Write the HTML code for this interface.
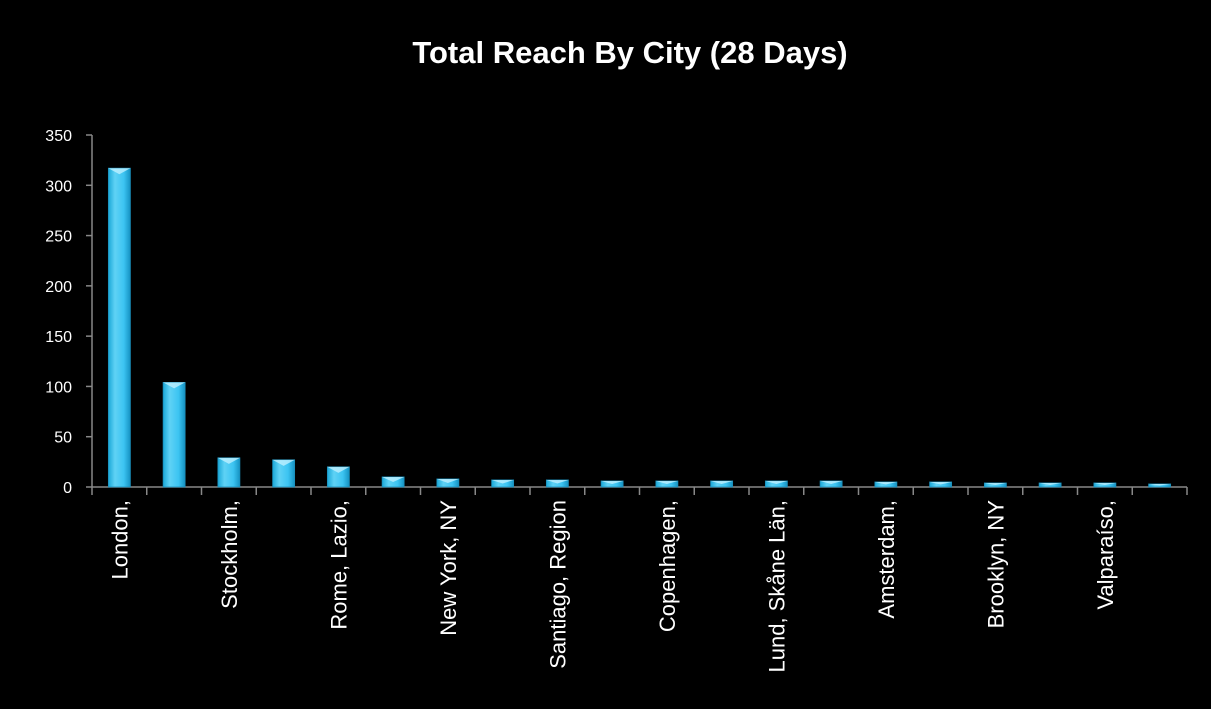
<!DOCTYPE html>
<html><head><meta charset="utf-8"><style>
html,body{margin:0;padding:0;background:#000;}
svg{display:block;font-family:"Liberation Sans",sans-serif;}
</style></head><body>
<svg id="chart" width="1211" height="709" viewBox="0 0 1211 709">
<defs>
<linearGradient id="bg" x1="0" y1="0" x2="1" y2="0">
<stop offset="0" stop-color="#1aa8d8"/><stop offset="0.3" stop-color="#5fd2f5"/><stop offset="0.7" stop-color="#3cc4f2"/><stop offset="1" stop-color="#1592c2"/>
</linearGradient>
<linearGradient id="bv" x1="0" y1="0" x2="0" y2="1">
<stop offset="0" stop-color="#ffffff" stop-opacity="0.25"/><stop offset="1" stop-color="#00a0e0" stop-opacity="0.25"/>
</linearGradient>
</defs>
<rect x="0" y="0" width="1211" height="709" fill="#000"/>
<text x="630" y="63" text-anchor="middle" fill="#fff" font-size="31" font-weight="bold">Total Reach By City (28 Days)</text>
<g id="plot"></g>
</svg>
<script>
const categories = ["London,","Birmingham,","Stockholm,","Gothenburg,","Rome, Lazio,","Milan,","New York, NY","Paris,","Santiago, Region","Madrid,","Copenhagen,","Oslo,","Lund, Skåne Län,","Malmö,","Amsterdam,","Berlin,","Brooklyn, NY","Dublin,","Valparaíso,","Barcelona,"];
const values = [317,104,29,27,20,10,8,7,7,6,6,6,6,6,5,5,4,4,4,3];
const yTicks = [0,50,100,150,200,250,300,350];
const NS="http://www.w3.org/2000/svg";
const g=document.getElementById('plot');
const X0=92,X1=1187,Y0=487,YT=135,YMAX=350;
const n=categories.length, cw=(X1-X0)/n;
function y(v){return Y0-(v/YMAX)*(Y0-YT);}
function x(i){return X0+cw*(i+0.5);}
function mk(t,a){const e=document.createElementNS(NS,t);for(const k in a)e.setAttribute(k,a[k]);g.appendChild(e);return e;}
let e;
e=mk('line',{x1:X0,y1:YT,x2:X0,y2:Y0,stroke:'#888','stroke-width':1.5});


e=mk('line',{x1:X0,y1:Y0,x2:X1,y2:Y0,stroke:'#888','stroke-width':1.5});


yTicks.forEach(t=>{
 e=mk('line',{x1:X0-6,y1:y(t),x2:X0,y2:y(t),stroke:'#888','stroke-width':1.5});
 
 
 e=mk('text',{x:X0-20,y:y(t)+6,'text-anchor':'end',fill:'#fff','font-size':16});
 e.textContent=t;
 
 
});
for(let i=0;i<=n;i++){
 e=mk('line',{x1:X0+cw*i,y1:Y0,x2:X0+cw*i,y2:Y0+8,stroke:'#888','stroke-width':1.5});
 
 
}
const bw=22;
values.forEach((v,i)=>{
 const bx=x(i)-bw/2, by=y(v), h=Y0-by;
 e=mk('rect',{x:bx,y:by,width:bw,height:h,fill:'url(#bg)',stroke:'#1b8fbb','stroke-width':0.8});
 
 
 const b=Math.min(6,h/2);
 e=mk('polygon',{points:`${bx},${by} ${bx+bw},${by} ${bx+bw/2},${by+b}`,fill:'#bff0ff','fill-opacity':0.8});
 
 
 if(i%2===0){
  const tx=x(i)+8, ty=Y0+13;
  e=mk('text',{x:tx,y:ty,'text-anchor':'end',fill:'#fff','font-size':22,transform:`rotate(-90 ${tx} ${ty})`});
  e.textContent=categories[i];
  
  
 }
});
</script>
</body></html>
